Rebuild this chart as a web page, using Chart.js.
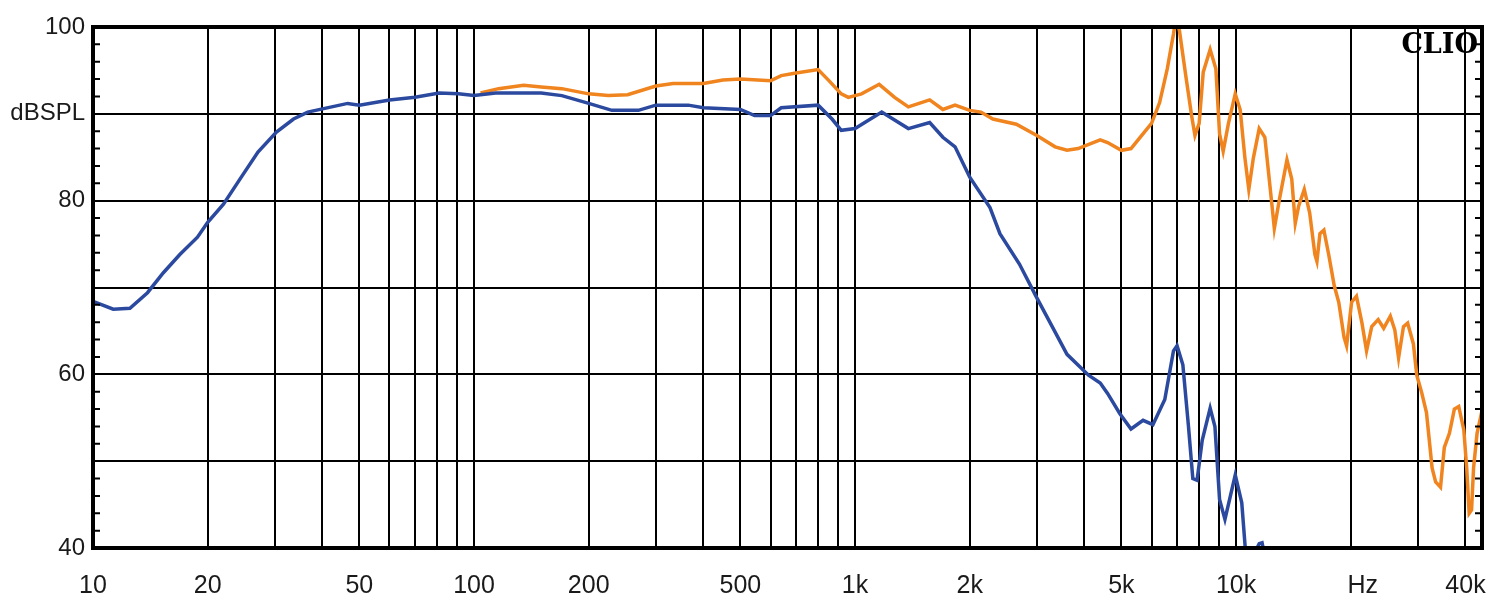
<!DOCTYPE html>
<html>
<head>
<meta charset="utf-8">
<title>CLIO SPL</title>
<script src="https://cdn.jsdelivr.net/npm/chart.js@4.4.1/dist/chart.umd.min.js"></script>
<style>
    body { margin: 0; background: #fff; }
    #wrap { width: 1500px; height: 604px; position: relative; }
</style>
</head>
<body>
<div id="wrap"><canvas id="splChart"></canvas></div>
<script>
// frequencies (Hz) and levels (dB SPL)
const freqBlue = [10, 11.3, 12.5, 13.9, 15.3, 16.9, 18.8, 20, 22, 24.4, 27.1, 30.3, 33.6, 36.6, 40.3, 46.6, 50, 60, 70, 81, 91, 100,
    114, 150, 170, 200, 230, 270, 300, 365, 400, 500, 545, 600, 640, 800, 870, 920, 1000, 1175, 1380, 1570, 1700, 1830,
    2000, 2260, 2400, 2700, 3000, 3300, 3600, 4100, 4400, 4600, 4950, 5300, 5700, 6050, 6500, 6850, 7000, 7250, 7500,
    7700, 7900, 8150, 8550, 8800, 9050, 9350, 9950, 10350, 10600, 11200, 11500, 11700, 11900];
const splBlue = [68.4, 67.5, 67.6, 69.4, 71.7, 73.8, 75.8, 77.5, 79.6, 82.6, 85.6, 87.9, 89.4, 90.2, 90.6, 91.2, 91.0, 91.6, 91.9, 92.4, 92.3, 92.1,
    92.4, 92.4, 92.1, 91.2, 90.4, 90.4, 91.0, 91.0, 90.7, 90.5, 89.8, 89.8, 90.7, 91.0, 89.4, 88.1, 88.3, 90.2, 88.3, 89.0, 87.3, 86.2,
    82.7, 79.2, 76.2, 72.7, 68.8, 65.4, 62.3, 59.9, 59.0, 57.8, 55.5, 53.7, 54.7, 54.2, 57.1, 62.7, 63.3, 61.1, 54.0,
    48.0, 47.8, 52.4, 56.1, 54.0, 45.6, 43.3, 48.4, 45.2, 39.3, 39.5, 40.5, 40.6, 39.0];

const freqOrange = [104, 116, 135, 150, 170, 200, 225, 253, 300, 333, 400, 450, 500, 600, 640, 700, 800, 855, 920, 960, 1040,
    1157, 1270, 1380, 1570, 1700, 1830, 2000, 2140, 2300, 2650, 3000, 3350, 3600, 3850, 4400, 4600, 5000, 5300, 5600,
    6000, 6300, 6600, 6850, 6950, 7100, 7400, 7650, 7800, 8000, 8200, 8550, 8850, 9050, 9250, 9550, 9950, 10250, 10550,
    10800, 11100, 11500, 11900, 12400, 12600, 13000, 13600, 14000, 14300, 14600, 15100, 15600, 16100, 16300, 16600,
    17000, 17500, 18100, 18600, 19200, 19500, 20100, 20700, 21400, 22000, 22700, 23600, 24400, 25400, 26100, 26700,
    27500, 28200, 29200, 29800, 30700, 31600, 32700, 33400, 34400, 35200, 36300, 37400, 38400, 39600, 40300, 40900,
    41500, 42000, 42900, 44300];
const splOrange = [92.4, 92.9, 93.3, 93.1, 92.9, 92.3, 92.1, 92.2, 93.2, 93.5, 93.5, 93.9, 94.0, 93.8, 94.4, 94.7, 95.1, 93.8, 92.3, 91.9, 92.3,
    93.4, 91.9, 90.8, 91.6, 90.5, 91.0, 90.4, 90.2, 89.4, 88.8, 87.5, 86.2, 85.8, 86.0, 87.0, 86.7, 85.8, 86.0, 87.3,
    88.9, 91.3, 95.2, 99.2, 101, 99.6, 94.0, 89.7, 87.5, 88.9, 94.8, 97.4, 95.2, 87.7, 85.7, 88.9, 92.3, 90.5, 84.9,
    81.3, 84.9, 88.3, 87.3, 79.8, 76.8, 80.2, 84.7, 82.5, 77.4, 79.4, 81.3, 78.6, 73.8, 73.0, 76.2,
    76.6, 73.8, 70.2, 68.3, 64.3, 63.3, 68.3, 69.0, 65.9, 62.7, 65.5, 66.3, 65.3, 66.7, 65.1, 61.9,
    65.5, 65.9, 63.5, 59.9, 57.9, 55.6, 49.2, 47.6, 47.0, 51.6, 53.2, 56.0, 56.3, 53.6, 49.2, 44.0,
    44.4, 49.2, 53.2, 56.0];

// x grid lines (1..9 per decade) and the labels shown under some of them
const xGridValues = [10, 20, 30, 40, 50, 60, 70, 80, 90, 100, 200, 300, 400, 500, 600, 700, 800, 900,
    1000, 2000, 3000, 4000, 5000, 6000, 7000, 8000, 9000, 10000, 20000, 21500, 30000, 40000];
const xTickLabels = {10: '10', 20: '20', 50: '50', 100: '100', 200: '200', 500: '500', 1000: '1k', 2000: '2k',
    5000: '5k', 10000: '10k', 21500: 'Hz', 40000: '40k'};
const yTickLabels = {40: '40', 60: '60', 80: '80', 90: 'dBSPL', 100: '100'};

function toPoints(xs, ys) {
    return xs.map((x, i) => ({x: x, y: ys[i]}));
}

// frame, small 2 dB ticks on both sides, CLIO mark
const framePlugin = {
    id: 'frame',
    afterDraw(chart) {
        const {ctx, chartArea: a, scales} = chart;
        ctx.save();
        ctx.strokeStyle = '#000';
        ctx.lineWidth = 2;
        for (let v = 42; v < 100; v += 2) {
            if (v % 10 === 0) continue;
            const y = scales.y.getPixelForValue(v);
            ctx.beginPath();
            ctx.moveTo(a.left, y); ctx.lineTo(a.left + 7, y);
            ctx.moveTo(a.right, y); ctx.lineTo(a.right - 7, y);
            ctx.stroke();
        }
        ctx.lineWidth = 4;
        ctx.strokeRect(a.left, a.top, a.right - a.left, a.bottom - a.top);
        ctx.fillStyle = '#000';
        ctx.font = 'bold 27px "DejaVu Serif"';
        ctx.textAlign = 'right';
        ctx.textBaseline = 'alphabetic';
        ctx.fillText('CLIO', a.right - 4, a.top + 26);
        ctx.restore();
    }
};

document.addEventListener("DOMContentLoaded", function() {
    const ctx = document.getElementById('splChart').getContext('2d');

    new Chart(ctx, {
        type: 'line',
        data: {
            datasets: [{
                label: 'blue',
                data: toPoints(freqBlue, splBlue),
                borderColor: '#2b4a9f',
                borderWidth: 3.5,
                pointRadius: 0,
                tension: 0
            }, {
                label: 'orange',
                data: toPoints(freqOrange, splOrange),
                borderColor: '#f0841f',
                borderWidth: 3.5,
                pointRadius: 0,
                tension: 0
            }]
        },
        options: {
            responsive: true,
            maintainAspectRatio: false,
            animation: false,
            layout: { padding: { top: 27, right: 18, left: 0, bottom: 0 } },
            plugins: {
                legend: { display: false },
                tooltip: { enabled: false }
            },
            scales: {
                x: {
                    type: 'logarithmic',
                    min: 10,
                    max: 44200,
                    afterBuildTicks: (scale) => {
                        scale.ticks = xGridValues.map(v => ({value: v}));
                    },
                    afterFit: (scale) => {
                        scale.height = 56;
                        scale.paddingLeft = 0;
                        scale.paddingRight = 0;
                    },
                    ticks: {
                        autoSkip: false,
                        maxRotation: 0,
                        minRotation: 0,
                        padding: 23,
                        color: '#1a1a1a',
                        font: { family: 'Arial, "Liberation Sans"', size: 25 },
                        callback: (v) => xTickLabels[v] || ''
                    },
                    grid: {
                        color: (c) => (c.tick && c.tick.value === 21500) ? 'rgba(0,0,0,0)' : '#000',
                        lineWidth: 2,
                        drawTicks: false
                    },
                    border: { display: false }
                },
                y: {
                    min: 40,
                    max: 100,
                    afterFit: (scale) => { scale.width = 93; },
                    ticks: {
                        stepSize: 10,
                        padding: 8,
                        color: '#1a1a1a',
                        font: { family: 'Arial, "Liberation Sans"', size: 24 },
                        callback: (v) => yTickLabels[v] || ''
                    },
                    grid: {
                        color: '#000',
                        lineWidth: 2,
                        drawTicks: false
                    },
                    border: { display: false }
                }
            }
        },
        plugins: [framePlugin]
    });
});
</script>
</body>
</html>
